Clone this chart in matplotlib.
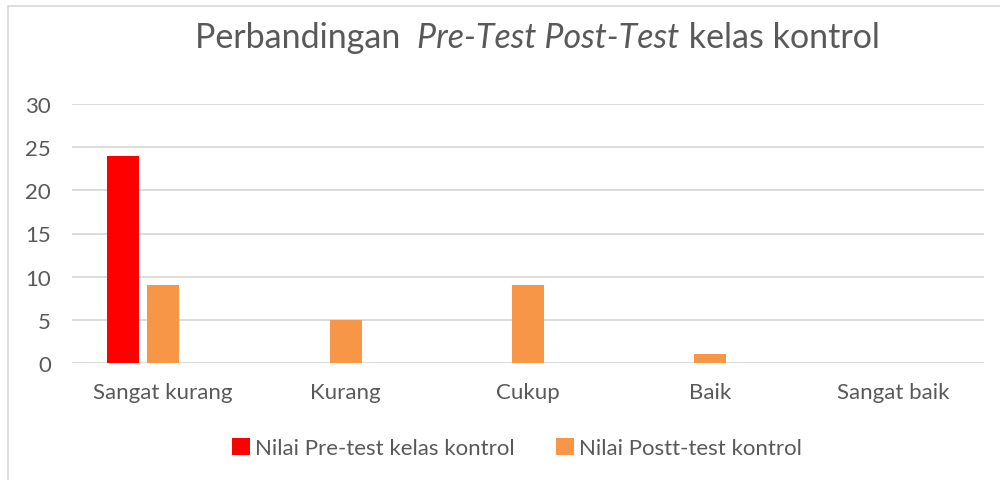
import matplotlib
matplotlib.use("Agg")
import matplotlib.pyplot as plt
from matplotlib.patches import Rectangle
import numpy as np

categories = ["Sangat kurang", "Kurang", "Cukup", "Baik", "Sangat baik"]
pre_test = [24, 0, 0, 0, 0]
post_test = [9, 5, 9, 1, 0]
series_names = ["Nilai Pre-test kelas kontrol", "Nilai Postt-test kontrol"]
y_ticks = [0, 5, 10, 15, 20, 25, 30]

plt.rcParams['font.family'] = ['Lato', 'DejaVu Sans']
TXT = "#595959"

fig = plt.figure(figsize=(10, 4.81), dpi=100)
ax = fig.add_axes([0.072, 1 - 364/481, 0.912, (364 - 105)/481])

x = np.arange(len(categories))
w = 0.175
ax.bar(x - 0.222, pre_test, width=w, color="#FF0000", label=series_names[0], zorder=3)
ax.bar(x, post_test, width=w, color="#F79646", label=series_names[1], zorder=3)

ax.set_xlim(-0.5, len(categories) - 0.5)
ax.set_ylim(0, 30)
ax.set_yticks(y_ticks)
ax.set_xticks(x)
ax.set_xticklabels(categories)
ax.grid(axis="y", color="#D9D9D9", linewidth=1.3, zorder=0)
for s in ax.spines.values():
    s.set_visible(False)
ax.tick_params(length=0, labelsize=16, colors=TXT)
ax.tick_params(axis="y", pad=15)
ax.tick_params(axis="x", pad=14)

# title with italic part
fig.canvas.draw()
r = fig.canvas.get_renderer()
parts = [("Perbandingan  ", "normal"), ("Pre-Test Post-Test", "italic"), (" kelas kontrol", "normal")]
texts = []
total = 0
for s, st in parts:
    t = fig.text(0, 1 - 38/481, s, fontsize=24.5, style=st, color=TXT, va="center", ha="left")
    texts.append(t)
    total += t.get_window_extent(r).width
xstart = 537 - total / 2
for t in texts:
    t.set_x(xstart / 1000)
    xstart += t.get_window_extent(r).width

leg = fig.legend(loc="center", bbox_to_anchor=(0.517, 1 - 449/481), ncol=2, frameon=False,
                 fontsize=16, handlelength=0.8, handleheight=0.8, columnspacing=1.85,
                 handletextpad=0.25)
for t in leg.get_texts():
    t.set_color(TXT)

fig.patches.append(Rectangle((8/1000, -0.1), 1.1, 1.1 - 7/481, transform=fig.transFigure,
                             fill=False, edgecolor="#D9D9D9", linewidth=1.2))

fig.savefig("out.png", dpi=100)
